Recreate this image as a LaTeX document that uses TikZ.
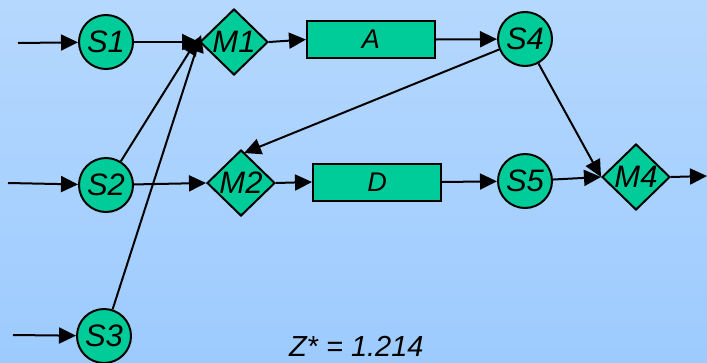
\documentclass[tikz,border=0pt]{standalone}
\usepackage{fontspec}
\setmainfont{Liberation Sans}
\usetikzlibrary{shapes.geometric,arrows.meta}
\definecolor{nodefill}{RGB}{0,204,153}
\definecolor{bgtop}{RGB}{181,216,254}
\definecolor{bgbot}{RGB}{157,203,254}
\begin{document}
\begin{tikzpicture}[x=1pt,y=-1pt,
  every path/.style={line width=2pt},
  stnode/.style={circle,draw=black,fill=nodefill,minimum size=54pt,inner sep=0pt,font=\fontsize{31}{33}\selectfont\itshape},
  mgnode/.style={diamond,draw=black,fill=nodefill,minimum width=68pt,minimum height=66pt,inner sep=0pt,text height=21pt,text depth=0pt,font=\fontsize{31}{33}\selectfont\itshape},
  opnode/.style={rectangle,draw=black,fill=nodefill,minimum width=128pt,minimum height=37pt,inner sep=0pt,font=\fontsize{27}{29}\selectfont\itshape},
  arr/.style={-{Triangle[length=17pt,width=16pt]}}]
\shade[top color=bgtop,bottom color=bgbot] (0,0) rectangle (707,362);
\useasboundingbox (0,0) rectangle (707,362);
\node[stnode] (S1) at (106,42) {S1};
\node[stnode] (S2) at (106,185) {S2};
\node[stnode] (S3) at (104,336) {S3};
\node[mgnode] (M1) at (234,42) {M1};
\node[mgnode] (M2) at (241,183) {M2};
\node[mgnode] (M4) at (636,177) {M4};
\node[opnode] (A) at (371,39.5) {A};
\node[opnode] (D) at (377,182) {D};
\node[stnode] (S4) at (525,39) {S4};
\node[stnode] (S5) at (525,181) {S5};
\coordinate (in1) at (18,43);
\coordinate (in2) at (8,183);
\coordinate (in3) at (13,335);
\coordinate (out) at (707,176);
\node[anchor=base west,inner sep=0pt,text depth=0pt,font=\fontsize{29}{31}\selectfont\itshape] (Z) at (288,356) {Z* = 1.214};
\draw[arr] (in1) -- (S1);
\draw[arr] (in2) -- (S2);
\draw[arr] (in3) -- (S3);
\draw[arr] (S1) -- (M1.west);
\draw[arr] (S2) -- ([xshift=-1pt,yshift=4pt]M1.west);
\draw[arr] (S3) -- ([xshift=2pt,yshift=7pt]M1.west);
\draw[arr] (M1.east) -- (A.west);
\draw[arr] (A.east) -- (S4);
\draw[arr] (S4) -- ([xshift=3pt,yshift=-4pt]M2.north);
\draw[arr] (S4) -- (M4.west);
\draw[arr] (S2) -- (M2.west);
\draw[arr] (M2.east) -- (D.west);
\draw[arr] (D.east) -- (S5);
\draw[arr] (S5) -- (M4.west);
\draw[arr] (M4.east) -- (out);
\end{tikzpicture}
\end{document}
